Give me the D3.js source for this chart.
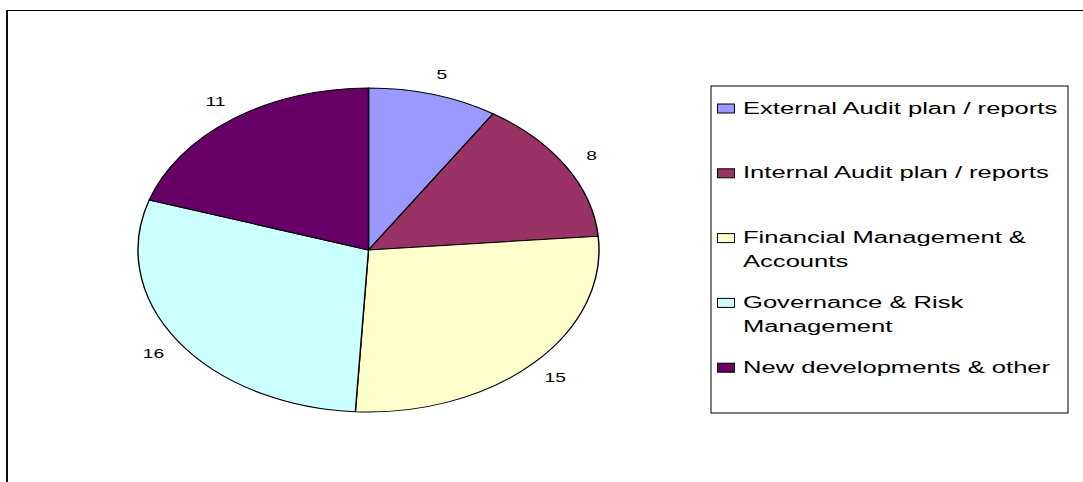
<!DOCTYPE html>
<html>
<head>
<meta charset="utf-8">
<script src="https://cdn.jsdelivr.net/npm/d3@7"></script>
<style>
  html, body { margin: 0; padding: 0; background: #fff; overflow: hidden; }
  svg { display: block; font-family: "Liberation Sans", Arial, sans-serif; }
</style>
</head>
<body>
<svg id="chart" width="1083" height="482"></svg>
<script>
// ---- data ----
const categories = [
  "External Audit plan / reports",
  "Internal Audit plan / reports",
  "Financial Management & Accounts",
  "Governance & Risk Management",
  "New developments & other"
];
const legendLines = [
  ["External Audit plan / reports"],
  ["Internal Audit plan / reports"],
  ["Financial Management &", "Accounts"],
  ["Governance & Risk", "Management"],
  ["New developments & other"]
];
const values = [5, 8, 15, 16, 11];
const colors = ["#9999FF", "#993366", "#FFFFCC", "#CCFFFF", "#660066"];

// ---- layout ----
const W = 1083, H = 482;
const svg = d3.select("#chart");

// outer chart frame (right and bottom edges run past the window)
svg.append("rect")
  .attr("x", 7).attr("y", 10.5)
  .attr("width", 1200).attr("height", 600)
  .attr("fill", "#fff").attr("stroke", "#000").attr("stroke-width", 1);
svg.append("line").attr("x1", 7).attr("x2", 7).attr("y1", 10.5).attr("y2", H)
  .attr("stroke", "#000").attr("stroke-width", 1.8);

// ---- pie (a circle stretched horizontally) ----
const cx = 368.5, cy = 250, r = 162, sx = 230.5 / 162;
const pieG = svg.append("g").attr("transform", `translate(${cx},${cy}) scale(${sx},1)`);

const pie = d3.pie().sort(null).value(d => d)
  .startAngle(0).endAngle(2 * Math.PI);
const arcs = pie(values);
const arc = d3.arc().innerRadius(0).outerRadius(r);

pieG.selectAll("path.slice")
  .data(arcs)
  .join("path")
  .attr("class", "slice")
  .attr("d", arc)
  .attr("fill", (d, i) => colors[i])
  .attr("stroke", "#000")
  .attr("stroke-width", 1)
  .attr("stroke-linejoin", "round");

const labelArc = d3.arc().innerRadius(r * 1.13).outerRadius(r * 1.13);
pieG.selectAll("text.lbl")
  .data(arcs)
  .join("text")
  .attr("class", "lbl")
  .attr("transform", d => `translate(${labelArc.centroid(d)})`)
  .attr("text-anchor", "middle")
  .attr("dominant-baseline", "central")
  .attr("font-size", 13.5)
  .attr("fill", "#000")
  .text(d => d.value);

// ---- legend ----
const lg = svg.append("g");
lg.append("rect")
  .attr("x", 711).attr("y", 86)
  .attr("width", 357).attr("height", 327)
  .attr("fill", "#fff").attr("stroke", "#000").attr("stroke-width", 1);

const rowY = d3.scaleLinear().domain([0, categories.length - 1]).range([113.5, 372.7]);
const items = lg.selectAll("g.item")
  .data(categories)
  .join("g")
  .attr("class", "item");

items.append("rect")
  .attr("x", 717.5)
  .attr("y", (d, i) => rowY(i) - 9.5)
  .attr("width", 17)
  .attr("height", 9)
  .attr("fill", (d, i) => colors[i])
  .attr("stroke", "#000")
  .attr("stroke-width", 1);

items.append("text")
  .attr("transform", (d, i) => `translate(743,${rowY(i)}) scale(1.6,1)`)
  .attr("font-size", 16)
  .attr("fill", "#000")
  .selectAll("tspan")
  .data((d, i) => legendLines[i])
  .join("tspan")
  .attr("x", 0)
  .attr("dy", (d, j) => j === 0 ? 0 : 24)
  .text(d => d);
</script>
</body>
</html>
